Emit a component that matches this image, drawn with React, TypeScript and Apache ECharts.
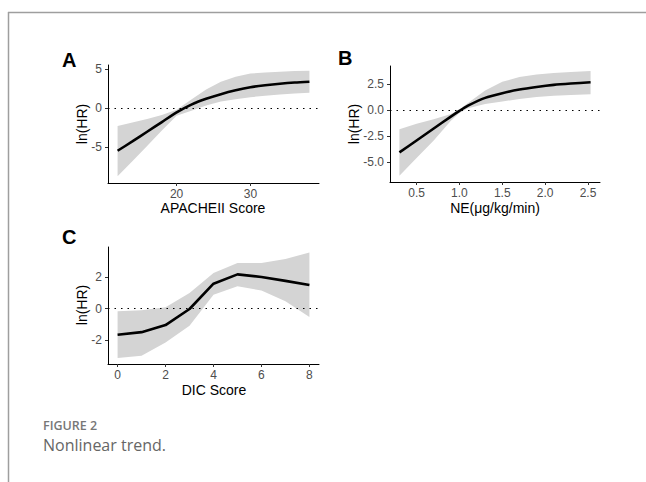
import React, { useEffect, useRef } from "react";
import * as echarts from "echarts";

// Panel A: APACHEII Score
const apacheX = [12, 14, 16, 18, 20, 22, 24, 26, 28, 30, 32, 34, 36, 38];
const apacheMean = [-5.5, -4.3, -3.05, -1.8, -0.55, 0.45, 1.2, 1.8, 2.3, 2.7, 2.95, 3.15, 3.3, 3.4];
const apacheUpper = [-2.3, -1.85, -1.4, -0.9, -0.2, 1.1, 2.4, 3.4, 4.05, 4.45, 4.6, 4.7, 4.78, 4.83];
const apacheLower = [-8.8, -6.85, -4.9, -2.9, -1.0, -0.35, 0.35, 0.85, 1.15, 1.4, 1.6, 1.75, 1.88, 1.98];
const apacheXTicks = [20, 30];
const apacheYTicks = [-5, 0, 5];

// Panel B: NE
const neX = [0.3, 0.5, 0.7, 0.9, 1.0, 1.1, 1.3, 1.5, 1.7, 1.9, 2.1, 2.3, 2.53];
const neMean = [-4.05, -2.9, -1.75, -0.6, -0.05, 0.45, 1.2, 1.65, 2.0, 2.25, 2.45, 2.58, 2.7];
const neUpper = [-1.83, -1.3, -0.85, -0.35, 0.1, 0.7, 1.9, 2.75, 3.2, 3.45, 3.6, 3.7, 3.79];
const neLower = [-6.3, -4.6, -2.9, -1.0, -0.25, 0.2, 0.6, 0.85, 1.1, 1.28, 1.4, 1.48, 1.54];
const neXTicks = [0.5, 1.0, 1.5, 2.0, 2.5];
const neYTicks = [-5, -2.5, 0, 2.5];

// Panel C: DIC Score
const dicX = [0, 1, 2, 3, 4, 5, 6, 7, 8];
const dicMean = [-1.67, -1.5, -1.05, -0.02, 1.6, 2.2, 2.03, 1.78, 1.52];
const dicUpper = [-0.17, -0.1, 0.1, 1.0, 2.28, 2.92, 2.92, 3.18, 3.6];
const dicLower = [-3.16, -3.01, -2.16, -1.09, 0.9, 1.43, 1.17, 0.47, -0.53];
const dicXTicks = [0, 2, 4, 6, 8];
const dicYTicks = [-2, 0, 2];

const FONT = "'Liberation Sans', Arial, Helvetica, sans-serif";
const CAPTION_FONT = "'Open Sans', 'Noto Sans', sans-serif";

function zip(xs: number[], ys: number[]) {
  return xs.map((x, i) => [x, ys[i]]);
}

function xAxisDef(gridIndex: number, min: number, max: number, ticks: number[], fmt: (v: number) => string) {
  return {
    type: "value",
    gridIndex,
    min,
    max,
    axisLine: { show: true, onZero: false, lineStyle: { color: "#000", width: 1 } },
    axisTick: { show: true, length: 3, customValues: ticks, lineStyle: { color: "#333", width: 1 } },
    axisLabel: { show: true, customValues: ticks, formatter: fmt, color: "#4d4d4d", fontSize: 12, fontFamily: FONT, margin: 5 },
    splitLine: { show: false },
  };
}

function yAxisDef(gridIndex: number, min: number, max: number, ticks: number[], fmt: (v: number) => string) {
  return {
    type: "value",
    gridIndex,
    min,
    max,
    axisLine: { show: true, onZero: false, lineStyle: { color: "#000", width: 1 } },
    axisTick: { show: true, length: 3, customValues: ticks, lineStyle: { color: "#333", width: 1 } },
    axisLabel: { show: true, customValues: ticks, formatter: fmt, color: "#4d4d4d", fontSize: 12, fontFamily: FONT, margin: 6 },
    splitLine: { show: false },
  };
}

function panelSeries(idx: number, xs: number[], mean: number[], lower: number[], upper: number[], smooth: boolean) {
  return [
    {
      type: "custom",
      xAxisIndex: idx,
      yAxisIndex: idx,
      data: xs.map((x, i) => [x, lower[i], upper[i]]),
      encode: { x: 0, y: [1, 2] },
      silent: true,
      z: 1,
      renderItem: (params: any, api: any) => {
        if (params.dataIndex !== 0) return null;
        const pts: number[][] = [];
        for (let i = 0; i < xs.length; i++) pts.push(api.coord([xs[i], upper[i]]));
        for (let i = xs.length - 1; i >= 0; i--) pts.push(api.coord([xs[i], lower[i]]));
        return { type: "polygon", shape: { points: pts }, style: { fill: "#d4d4d4", stroke: "none" } };
      },
    },
    {
      type: "line",
      xAxisIndex: idx,
      yAxisIndex: idx,
      data: zip(xs, mean),
      symbol: "none",
      smooth: smooth ? 0.25 : false,
      lineStyle: { color: "#000", width: 2.6 },
      silent: true,
      z: 3,
      markLine: {
        silent: true,
        symbol: "none",
        label: { show: false },
        lineStyle: { color: "#000", width: 1.1, type: [1.5, 5] },
        data: [{ yAxis: 0 }],
        z: 2,
      },
    },
  ];
}

export default function App() {
  const ref = useRef<HTMLDivElement>(null);

  useEffect(() => {
    if (!ref.current) return;
    const chart = echarts.init(ref.current, undefined, { renderer: "svg" });
    const intFmt = (v: number) => String(v);
    const oneFmt = (v: number) => v.toFixed(1);

    const option = {
      animation: false,
      backgroundColor: "#fff",
      grid: [
        { left: 108, top: 65, width: 211, height: 118 },
        { left: 390, top: 66, width: 210, height: 116 },
        { left: 108, top: 247, width: 211, height: 117 },
      ],
      xAxis: [
        xAxisDef(0, 10.7, 39.3, apacheXTicks, intFmt),
        xAxisDef(1, 0.19, 2.64, neXTicks, oneFmt),
        xAxisDef(2, -0.4, 8.4, dicXTicks, intFmt),
      ],
      yAxis: [
        yAxisDef(0, -9.66, 5.56, apacheYTicks, intFmt),
        yAxisDef(1, -6.9, 4.27, neYTicks, oneFmt),
        yAxisDef(2, -3.54, 3.95, dicYTicks, intFmt),
      ],
      series: [
        ...panelSeries(0, apacheX, apacheMean, apacheLower, apacheUpper, true),
        ...panelSeries(1, neX, neMean, neLower, neUpper, true),
        ...panelSeries(2, dicX, dicMean, dicLower, dicUpper, false),
      ],
      graphic: [
        // frame
        { type: "line", shape: { x1: 8, y1: 12.5, x2: 646, y2: 12.5 }, style: { stroke: "#9e9e9e", lineWidth: 1.5 }, silent: true },
        { type: "line", shape: { x1: 8.5, y1: 12, x2: 8.5, y2: 482 }, style: { stroke: "#9e9e9e", lineWidth: 1.5 }, silent: true },
        // panel letters
        { type: "text", x: 62, y: 60, style: { text: "A", fontSize: 20, fontWeight: "bold", fontFamily: FONT, fill: "#000", textVerticalAlign: "middle" } },
        { type: "text", x: 338, y: 58, style: { text: "B", fontSize: 20, fontWeight: "bold", fontFamily: FONT, fill: "#000", textVerticalAlign: "middle" } },
        { type: "text", x: 62, y: 237, style: { text: "C", fontSize: 20, fontWeight: "bold", fontFamily: FONT, fill: "#000", textVerticalAlign: "middle" } },
        // axis titles
        { type: "text", x: 213, y: 207.5, style: { text: "APACHEII Score", fontSize: 14, fontFamily: FONT, fill: "#000", textAlign: "center", textVerticalAlign: "middle" } },
        { type: "text", x: 495, y: 208, style: { text: "NE(μg/kg/min)", fontSize: 14, fontFamily: FONT, fill: "#000", textAlign: "center", textVerticalAlign: "middle" } },
        { type: "text", x: 214, y: 390, style: { text: "DIC Score", fontSize: 14, fontFamily: FONT, fill: "#000", textAlign: "center", textVerticalAlign: "middle" } },
        { type: "text", x: 82, y: 124, rotation: Math.PI / 2, style: { text: "ln(HR)", fontSize: 14, fontFamily: FONT, fill: "#000", textAlign: "center", textVerticalAlign: "middle" } },
        { type: "text", x: 354, y: 124, rotation: Math.PI / 2, style: { text: "ln(HR)", fontSize: 14, fontFamily: FONT, fill: "#000", textAlign: "center", textVerticalAlign: "middle" } },
        { type: "text", x: 82, y: 305, rotation: Math.PI / 2, style: { text: "ln(HR)", fontSize: 14, fontFamily: FONT, fill: "#000", textAlign: "center", textVerticalAlign: "middle" } },
        // caption
        { type: "text", x: 43, y: 425, style: { text: "FIGURE 2", fontSize: 12.5, fontWeight: 600, fontFamily: CAPTION_FONT, fill: "#777", textVerticalAlign: "middle" } },
        { type: "text", x: 43, y: 444.5, style: { text: "Nonlinear trend.", fontSize: 16, fontFamily: CAPTION_FONT, fill: "#666", textVerticalAlign: "middle" } },
      ],
    };
    chart.setOption(option as any);
    return () => {
      chart.dispose();
    };
  }, []);

  return <div ref={ref} style={{ position: "absolute", left: 0, top: 0, width: 646, height: 482 }} />;
}
